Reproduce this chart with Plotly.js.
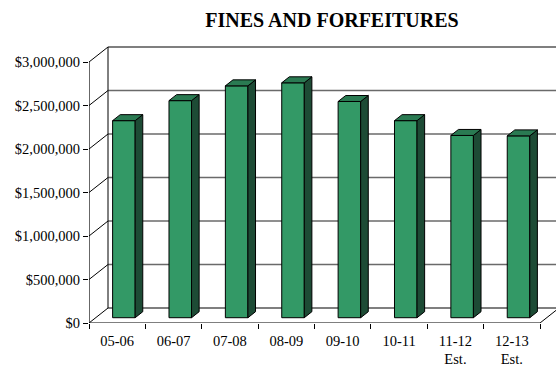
<!DOCTYPE html>
<html>
<head>
<meta charset="utf-8">
<script src="https://cdn.plot.ly/plotly-3.0.1.min.js"></script>
<style>html,body{margin:0;padding:0;background:#fff}</style>
</head>
<body>
<div id="chart" style="width:556px;height:367px"></div>
<script>
// Fiscal years and revenue (dollars)
const years = ['05-06', '06-07', '07-08', '08-09', '09-10', '10-11', '11-12', '12-13'];
const yearNotes = ['', '', '', '', '', '', 'Est.', 'Est.'];
const revenue = [2265000, 2495000, 2665000, 2700000, 2485000, 2265000, 2095000, 2090000];
const axisTicks = [0, 500000, 1000000, 1500000, 2000000, 2500000, 3000000];

// Oblique "3-D" projection: depth shifts points right and up.
const W = 556, H = 367;
const M = {l: 89, r: 0, t: 40, b: 44};
const CAT_PX = 56.375;            // pixels per category
const VAL_PX = 87 / 1e6;          // pixels per dollar
const DX = 19 / CAT_PX;           // full depth, in category units
const DY = 15 / VAL_PX;           // full depth, in dollars
const BAR_HALF = 0.2;
const FRONT = 0.353, BACK = 0.753; // bar depth span (fraction of wall depth)

const n = years.length;
const xMin = -0.5, xMax = -0.5 + (W - M.l - M.r) / CAT_PX;
const yMax = (H - M.t - M.b) / VAL_PX;
const wallTop = axisTicks[axisTicks.length - 1];
const xEnd = n - 0.5;

const FONT = 'Liberation Serif, Times New Roman, serif';
const FACE = '#339966', TOP_FACE = '#2a7a52', SIDE_FACE = '#1d4b35';

function seg(x0, y0, x1, y1, color, width) {
  return {type: 'line', xref: 'x', yref: 'y', x0, y0, x1, y1, layer: 'below',
          line: {color: color, width: width}};
}

const shapes = [];
// back wall gridlines
axisTicks.forEach(v => {
  const edge = (v === 0 || v === wallTop);
  shapes.push(seg(xMin + DX, v + DY, xEnd + DX, v + DY, edge ? '#000' : '#6a6a6a', edge ? 1.2 : 1.5));
});
// back wall left edge
shapes.push(seg(xMin + DX, DY, xMin + DX, wallTop + DY, '#000', 1));
// side wall diagonals at each tick
axisTicks.forEach(v => shapes.push(seg(xMin, v, xMin + DX, v + DY, '#000', 1)));
// front value axis line
shapes.push(seg(xMin, 0, xMin, wallTop, '#000', 1.2));
// floor front edge and right edge
shapes.push(seg(xMin, 0, xEnd, 0, '#000', 1.2));
shapes.push(seg(xEnd, 0, xEnd + DX, DY, '#000', 1));

const traces = [];
// front faces
traces.push({
  type: 'bar',
  x: years.map((_, i) => i + FRONT * DX),
  y: revenue,
  base: FRONT * DY,
  width: 2 * BAR_HALF,
  marker: {color: FACE, line: {color: '#000', width: 1}},
  hoverinfo: 'skip', showlegend: false
});
// side and top faces
revenue.forEach((v, i) => {
  const xl = i - BAR_HALF, xr = i + BAR_HALF;
  traces.push({
    type: 'scatter', mode: 'lines', fill: 'toself', fillcolor: SIDE_FACE,
    x: [xr + FRONT * DX, xr + BACK * DX, xr + BACK * DX, xr + FRONT * DX, xr + FRONT * DX],
    y: [FRONT * DY, BACK * DY, v + BACK * DY, v + FRONT * DY, FRONT * DY],
    line: {color: '#000', width: 1}, hoverinfo: 'skip', showlegend: false
  });
  traces.push({
    type: 'scatter', mode: 'lines', fill: 'toself', fillcolor: TOP_FACE,
    x: [xl + FRONT * DX, xr + FRONT * DX, xr + BACK * DX, xl + BACK * DX, xl + FRONT * DX],
    y: [v + FRONT * DY, v + FRONT * DY, v + BACK * DY, v + BACK * DY, v + FRONT * DY],
    line: {color: '#000', width: 1}, hoverinfo: 'skip', showlegend: false
  });
});
// carrier for the category label axis
traces.push({
  type: 'scatter', mode: 'markers', x: [0, n - 1], y: [0, 0], xaxis: 'x2',
  marker: {opacity: 0}, hoverinfo: 'skip', showlegend: false
});

const boundaries = [];
for (let i = 0; i <= n; i++) boundaries.push(i - 0.5);

const layout = {
  width: W, height: H,
  margin: M,
  paper_bgcolor: '#fff', plot_bgcolor: '#fff',
  font: {family: FONT, size: 14.5, color: '#000'},
  title: {
    text: '<b>FINES AND FORFEITURES</b>',
    xref: 'container', x: 332 / W, xanchor: 'center',
    yref: 'container', y: 1 - 20 / H, yanchor: 'middle',
    font: {family: FONT, size: 20, color: '#000'}
  },
  xaxis: {
    type: 'linear', range: [xMin, xMax],
    tickmode: 'array', tickvals: boundaries,
    ticks: 'outside', ticklen: 5, tickcolor: '#000', tickwidth: 1,
    showticklabels: false, showgrid: false, zeroline: false, showline: false,
    fixedrange: true
  },
  xaxis2: {
    type: 'linear', range: [xMin, xMax], overlaying: 'x', side: 'bottom',
    tickmode: 'array', tickvals: years.map((_, i) => i),
    ticktext: years.map((y, i) => yearNotes[i] ? y + '<br>' + yearNotes[i] : y),
    ticks: '', ticklabelstandoff: 7,
    showgrid: false, zeroline: false, showline: false,
    tickfont: {family: FONT, size: 14.5, color: '#000'},
    fixedrange: true
  },
  yaxis: {
    range: [0, yMax],
    tickmode: 'array', tickvals: axisTicks, tickformat: '$,',
    ticks: 'outside', ticklen: 5, tickcolor: '#000', tickwidth: 1,
    showgrid: false, zeroline: false, showline: false,
    tickfont: {family: FONT, size: 14.5, color: '#000'},
    fixedrange: true
  },
  shapes: shapes,
  bargap: 0
};

Plotly.newPlot('chart', traces, layout, {displayModeBar: false, staticPlot: true});
</script>
</body>
</html>
